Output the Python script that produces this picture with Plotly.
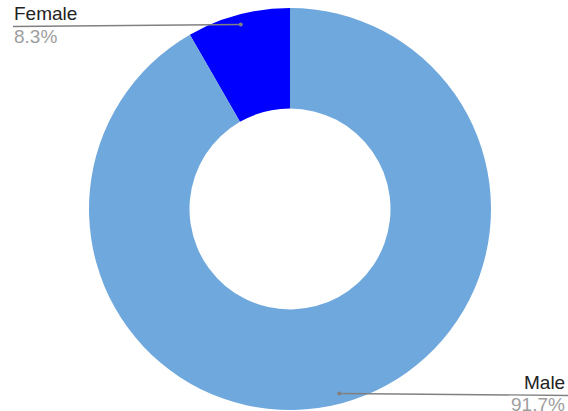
import math
import plotly.graph_objects as go

# data
labels = ["Female", "Male"]
values = [8.3, 91.7]
colors = ["#0000ff", "#6fa8dc"]

W, H = 568, 411
cx, cy, R = 290, 209, 201  # pie centre / radius in px

total = sum(values)
rot = -values[0] / total * 360  # female slice ends at 12 o'clock

fig = go.Figure(go.Pie(
    labels=labels,
    values=values,
    hole=0.5,
    sort=False,
    direction="clockwise",
    rotation=rot,
    marker=dict(colors=colors, line=dict(width=0)),
    textinfo="none",
    showlegend=False,
    domain=dict(x=[(cx - R) / W, (cx + R) / W], y=[1 - (cy + R) / H, 1 - (cy - R) / H]),
))

# leader lines + labels, placed from the slice mid-angles
cum = 0.0
shapes, annotations = [], []
for lab, v in zip(labels, values):
    a = math.radians(rot + (cum + v / 2) / total * 360)
    cum += v
    px = cx + math.sin(a) * R * 0.95
    py = cy - math.cos(a) * R * 0.95
    left = px < cx
    ly = py + 2
    ex = 13 if left else W
    shapes.append(dict(type="line", xref="paper", yref="paper",
                       x0=px / W, y0=1 - py / H, x1=ex / W, y1=1 - ly / H,
                       line=dict(color="#808080", width=1.3)))
    shapes.append(dict(type="circle", xref="paper", yref="paper",
                       x0=(px - 2) / W, y0=1 - (py - 2) / H, x1=(px + 2) / W, y1=1 - (py + 2) / H,
                       fillcolor="#808080", line=dict(width=0)))
    anchor = "left" if left else "right"
    tx = ex if left else W - 2
    annotations.append(dict(xref="paper", yref="paper", x=tx / W, y=1 - (ly - 1.5) / H,
                            text=lab, showarrow=False, xanchor=anchor, yanchor="bottom",
                            font=dict(size=19, color="#222222"), borderpad=0))
    annotations.append(dict(xref="paper", yref="paper", x=tx / W, y=1 - (ly - 2) / H,
                            text=f"{v}%", showarrow=False, xanchor=anchor, yanchor="top",
                            font=dict(size=19, color="#9e9e9e"), borderpad=0))

fig.update_layout(
    width=W, height=H,
    margin=dict(l=0, r=0, t=0, b=0),
    paper_bgcolor="white",
    font=dict(family="Arial, Liberation Sans, sans-serif"),
    shapes=shapes,
    annotations=annotations,
)

fig.write_html("out.html", config={"displayModeBar": False},
               post_script="document.body.style.margin='0px';")
